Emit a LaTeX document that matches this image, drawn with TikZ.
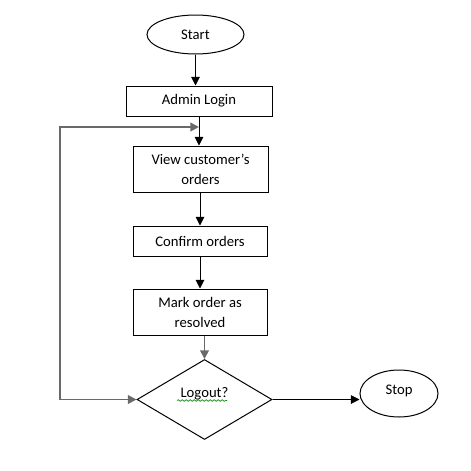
\documentclass[tikz,border=0pt]{standalone}
\usepackage{fontspec}
\setmainfont{Carlito}
\usetikzlibrary{shapes.geometric,arrows.meta,decorations.pathmorphing}
\definecolor{loopgray}{RGB}{105,105,105}
\begin{document}
\begin{tikzpicture}[x=0.75pt,y=-0.75pt,font=\fontsize{11}{15}\selectfont,
    box/.style={draw,line width=0.75pt,align=center,inner sep=0pt},
    arr/.style={-{Triangle[length=6.5pt,width=6.5pt]},line width=0.75pt}]
    \useasboundingbox (0,0) rectangle (471,471);
    \node[box,ellipse,minimum width=72.75pt,minimum height=29.25pt] (start) at (195.5,34.5) {Start};
    \node[box,minimum width=109.5pt,minimum height=22.5pt] (login) at (199,101) {Admin Login};
    \node[box,minimum width=101.25pt,minimum height=34.5pt] (view) at (200.5,169) {View customer’s\\orders};
    \node[box,minimum width=100.5pt,minimum height=22.5pt] (confirm) at (200,241) {Confirm orders};
    \node[box,minimum width=100.5pt,minimum height=34.5pt] (mark) at (200,312) {Mark order as\\resolved};
    \node[box,diamond,aspect=1.69,minimum width=101.25pt,minimum height=60pt,text depth=10pt] (logout) at (204.5,399.5) {Logout?};
    \node[box,ellipse,minimum width=58.5pt,minimum height=35.25pt,text depth=6pt] (stop) at (399,393.5) {Stop};
    \coordinate (j) at (199,127);
    \draw[arr] (start) -- (start |- login.north);
    \draw[arr] (login.south) -- (login.south |- view.north);
    \draw[arr] (view.south -| confirm.north) -- (confirm.north);
    \draw[arr] (confirm) -- (mark);
    \draw[arr,loopgray,line width=1.4pt] (logout.north |- mark.south) -- (logout.north);
    \draw[arr] (logout.east) -- (logout.east -| stop.west);
    \draw[{Triangle[length=6.5pt,width=6.5pt]}-{Triangle[length=6.5pt,width=6.5pt]},loopgray,line width=1.4pt] (logout.west) -- (60,399.5) |- (j);
    \draw[green!55!black,line width=0.5pt,decorate,decoration={snake,segment length=3pt,amplitude=0.6pt}] (177,400.5) -- (227,400.5);
\end{tikzpicture}
\end{document}
